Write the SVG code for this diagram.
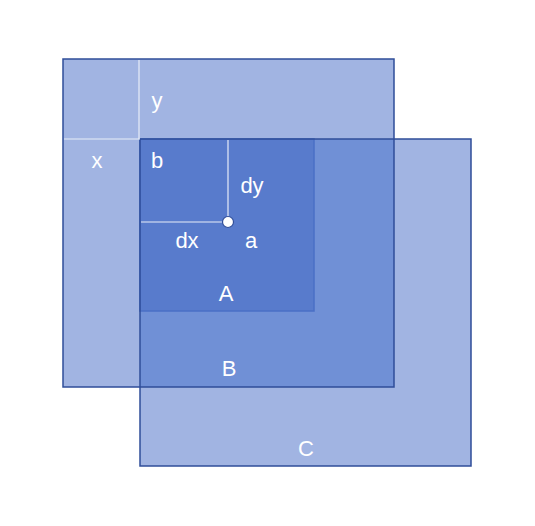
<svg xmlns="http://www.w3.org/2000/svg" width="535" height="526" viewBox="0 0 535 526">
<style>
.lbl{font-family:"Liberation Sans",Arial,sans-serif;font-size:22px;fill:#ffffff;text-anchor:middle}
.edge{fill:none;stroke:#2f4d99;stroke-width:1.5}
.guide{stroke:#e8edf8;stroke-width:1.2;fill:none}
</style>
<rect width="535" height="526" fill="#ffffff"/>
<g id="C">
<rect x="140" y="139" width="331" height="327" fill="#a1b4e2"/>
</g>
<g id="B">
<rect x="63" y="59" width="331" height="328" fill="#a1b4e2"/>
<rect x="140" y="139" width="254" height="248" fill="#7090d6"/>
</g>
<g id="A">
<rect x="140" y="139" width="174" height="172" fill="#587bcc" stroke="#4a6fc6" stroke-width="1.5"/>
</g>
<g id="outlines">
<rect class="edge" x="140" y="139" width="331" height="327"/>
<rect class="edge" x="63" y="59" width="331" height="328"/>
</g>
<g id="connectors">
<line class="guide" x1="139" y1="60" x2="139" y2="139"/>
<line class="guide" x1="64" y1="139" x2="140" y2="139"/>
<line class="guide" x1="228" y1="140" x2="228" y2="222"/>
<line class="guide" x1="141" y1="222" x2="228" y2="222"/>
<circle cx="228" cy="222" r="5.5" fill="#ffffff" stroke="#2f4d99" stroke-width="1.2"/>
</g>
<g id="labels">
<text class="lbl" x="157" y="108">y</text>
<text class="lbl" x="97" y="168">x</text>
<text class="lbl" x="157" y="168">b</text>
<text class="lbl" x="252" y="193">dy</text>
<text class="lbl" x="187" y="248">dx</text>
<text class="lbl" x="251" y="248">a</text>
<text class="lbl" x="226" y="301">A</text>
<text class="lbl" x="229" y="376">B</text>
<text class="lbl" x="306" y="456">C</text>
</g>
</svg>
